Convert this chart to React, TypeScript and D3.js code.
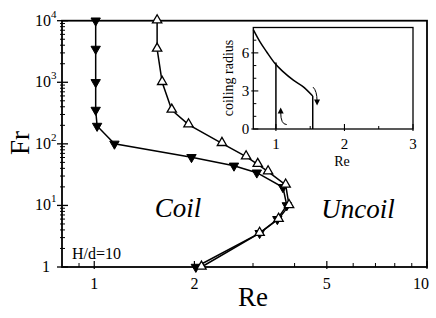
import React from 'react';
import * as d3 from 'd3';

// filled triangles (down): coil -> uncoil transition
const coilRe = [1.01, 1.01, 1.01, 1.01, 1.02, 1.15, 1.96, 2.63, 3.08, 3.69, 3.79, 3.55, 3.14, 2.02];
const coilFr = [10000, 3475, 1000, 355, 195, 100, 60.6, 44, 34, 19.7, 10, 5.97, 3.54, 1];
// open triangles (up): uncoil -> coil transition
const uncoilRe = [1.545, 1.545, 1.6, 1.71, 1.92, 2.42, 2.86, 3.1, 3.33, 3.76, 3.85, 3.58, 3.14, 2.1];
const uncoilFr = [10000, 3475, 1000, 355, 205, 102, 62, 46.6, 35.4, 21.5, 10, 6, 3.54, 1];

const xTickLabels = [1, 2, 5, 10];
const yDecades = [0, 1, 2, 3, 4];

// inset: coiling radius vs Re
const insetRe = [0.67, 0.768, 0.866, 0.987, 1.108, 1.254, 1.4, 1.537];
const insetRadius = [7.83, 6.86, 6.07, 5.16, 4.5, 3.85, 3.32, 2.6];
const insetJumpLow = { re: 1.0, top: 5.24 };
const insetJumpHigh = { re: 1.537, top: 2.6 };
const insetXTicks = [1, 2, 3];
const insetYTicks = [0, 3, 6];

const W = 436;
const H = 318;
const font = '"Liberation Serif", "DejaVu Serif", serif';

const App: React.FC = () => {
  const m = { left: 62, right: 427, top: 20.7, bottom: 267 };
  const x = d3.scaleLog().domain([0.8, 10]).range([m.left, m.right]);
  const y = d3.scaleLog().domain([1, 10000]).range([m.bottom, m.top]);

  const line = d3.line<[number, number]>().x(d => x(d[0])).y(d => y(d[1]));
  const coilPts = coilRe.map((r, i) => [r, coilFr[i]] as [number, number]);
  const uncoilPts = uncoilRe.map((r, i) => [r, uncoilFr[i]] as [number, number]);
  const tri = d3.symbol(d3.symbolTriangle, 38)()!;

  const xMinor = [0.9, 3, 4, 6, 7, 8, 9];
  const yMinor: number[] = [];
  for (let e = 0; e < 4; e++) for (let k = 2; k <= 9; k++) yMinor.push(k * Math.pow(10, e));

  // inset
  const ix = d3.scaleLinear().domain([0.67, 3]).range([253.3, 413]);
  const iy = d3.scaleLinear().domain([0, 8]).range([129, 27.5]);
  const insetLine = d3.line<number>().x((_d, i) => ix(insetRe[i])).y(d => iy(d)).curve(d3.curveMonotoneX);
  const insetXMinor = [1.5, 2.5];
  const insetYMinor = [1, 2, 4, 5, 7];

  const arrowUp = (px: number, py: number) => `M${px - 3},${py + 6} L${px},${py} L${px + 3},${py + 6} Z`;
  const arrowDown = (px: number, py: number) => `M${px - 3},${py - 6} L${px},${py} L${px + 3},${py - 6} Z`;

  const lowX = ix(1.07);
  const highX = ix(1.6);

  return (
    <svg width={W} height={H} style={{ position: 'absolute', left: 0, top: 0, background: '#fff' }}>
      <g fontFamily={font} fill="#000">
        {/* main frame */}
        <rect x={m.left} y={m.top} width={m.right - m.left} height={m.bottom - m.top} fill="none" stroke="#000" strokeWidth={1.8} />

        {/* y ticks */}
        {yMinor.map(v => (
          <line key={'ym' + v} x1={m.left - 2} x2={m.left + 3} y1={y(v)} y2={y(v)} stroke="#000" strokeWidth={1} />
        ))}
        {yDecades.map(e => (
          <line key={'yM' + e} x1={m.left - 5} x2={m.left + 6} y1={y(Math.pow(10, e))} y2={y(Math.pow(10, e))} stroke="#000" strokeWidth={1.3} />
        ))}
        {yDecades.map(e => (
          e === 0 ? (
            <text key={'yl' + e} x={50} y={y(1) + 5} fontSize={16} textAnchor="end">1</text>
          ) : (
            <text key={'yl' + e} x={35} y={y(Math.pow(10, e)) + 5} fontSize={16}>
              10<tspan dy={-8} fontSize={11}>{e}</tspan>
            </text>
          )
        ))}

        {/* x ticks */}
        {xMinor.map(v => (
          <line key={'xm' + v} x1={x(v)} x2={x(v)} y1={m.bottom} y2={m.bottom - 4} stroke="#000" strokeWidth={1} />
        ))}
        {xTickLabels.map(v => (
          <g key={'xl' + v}>
            <line x1={x(v)} x2={x(v)} y1={m.bottom + 2} y2={m.bottom - 6} stroke="#000" strokeWidth={1.2} />
            <text x={v === 10 ? x(v) - 6 : x(v)} y={m.bottom + 22} fontSize={16} textAnchor="middle">{v}</text>
          </g>
        ))}

        {/* axis titles */}
        <text x={253} y={306} fontSize={27} textAnchor="middle">Re</text>
        <text transform={`translate(29,143) rotate(-90)`} fontSize={27} textAnchor="middle">Fr</text>

        {/* region labels */}
        <text x={178} y={217} fontSize={27} fontStyle="italic" textAnchor="middle">Coil</text>
        <text x={358} y={218} fontSize={27} fontStyle="italic" textAnchor="middle">Uncoil</text>
        <text x={72} y={259} fontSize={16}>H/d=10</text>

        {/* data */}
        <path d={line(coilPts)!} fill="none" stroke="#000" strokeWidth={1.5} />
        <path d={line(uncoilPts)!} fill="none" stroke="#000" strokeWidth={1.5} />
        {coilPts.map((p, i) => (
          <path key={'c' + i} d={tri} transform={`translate(${x(p[0])},${y(p[1])}) rotate(180)`} fill="#000" stroke="#000" strokeWidth={1} />
        ))}
        {uncoilPts.map((p, i) => (
          <path key={'u' + i} d={tri} transform={`translate(${x(p[0])},${y(p[1]) - 0.5})`} fill="#fff" stroke="#000" strokeWidth={1.3} />
        ))}

        {/* inset */}
        <rect x={ix(0.67)} y={iy(8)} width={ix(3) - ix(0.67)} height={iy(0) - iy(8)} fill="#fff" stroke="#000" strokeWidth={1.3} />
        <path d={insetLine(insetRadius)!} fill="none" stroke="#000" strokeWidth={1.5} />
        <line x1={ix(insetJumpLow.re)} x2={ix(insetJumpLow.re)} y1={iy(0)} y2={iy(insetJumpLow.top)} stroke="#000" strokeWidth={1.5} />
        <line x1={ix(insetJumpHigh.re)} x2={ix(insetJumpHigh.re)} y1={iy(0)} y2={iy(insetJumpHigh.top)} stroke="#000" strokeWidth={1.5} />
        {insetYMinor.map(v => (
          <line key={'iym' + v} x1={ix(0.67)} x2={ix(0.67) + 3} y1={iy(v)} y2={iy(v)} stroke="#000" strokeWidth={1} />
        ))}
        {insetYTicks.map(v => (
          <g key={'iy' + v}>
            <line x1={ix(0.67) - 2} x2={ix(0.67) + 5} y1={iy(v)} y2={iy(v)} stroke="#000" strokeWidth={1.1} />
            <text x={ix(0.67) - 4} y={iy(v) + 5} fontSize={15} textAnchor="end">{v}</text>
          </g>
        ))}
        {insetXMinor.map(v => (
          <line key={'ixm' + v} x1={ix(v)} x2={ix(v)} y1={iy(0)} y2={iy(0) - 3} stroke="#000" strokeWidth={1} />
        ))}
        {insetXTicks.map(v => (
          <g key={'ix' + v}>
            <line x1={ix(v)} x2={ix(v)} y1={iy(0) + 2} y2={iy(0) - 5} stroke="#000" strokeWidth={1.1} />
            <text x={ix(v)} y={iy(0) + 20} fontSize={15} textAnchor="middle">{v}</text>
          </g>
        ))}
        <text x={342} y={166} fontSize={14} textAnchor="middle">Re</text>
        <text transform={`translate(233,78) rotate(-90)`} fontSize={14} textAnchor="middle">coiling radius</text>

        {/* arrows */}
        <path d={`M${lowX + 6},${iy(0.35)} Q${lowX},${iy(0.35)} ${lowX},${iy(1.3)}`} fill="none" stroke="#000" strokeWidth={1} />
        <path d={arrowUp(lowX, iy(1.7))} fill="#000" />
        <path d={`M${highX - 4},${iy(3.3)} Q${highX},${iy(3)} ${highX},${iy(2.2)}`} fill="none" stroke="#000" strokeWidth={1} />
        <path d={arrowDown(highX, iy(1.85))} fill="#000" />
      </g>
    </svg>
  );
};

export default App;
